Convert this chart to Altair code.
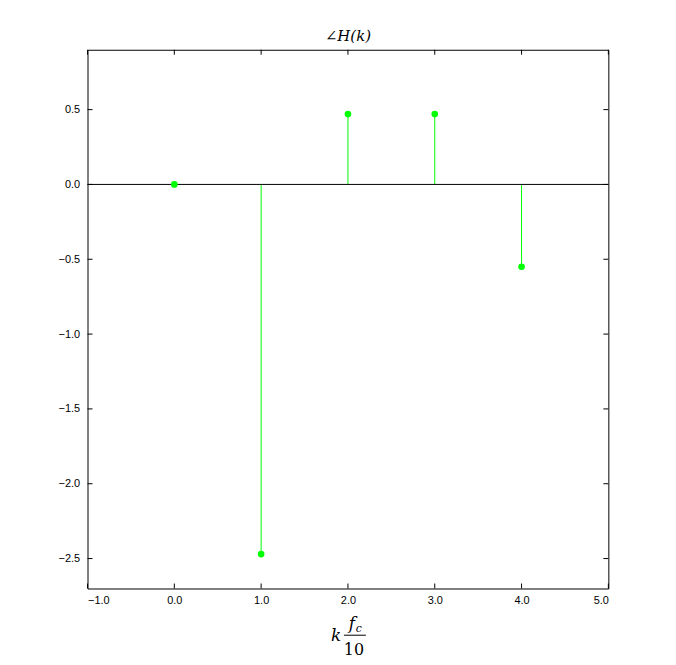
import altair as alt
import pandas as pd

k = [0, 1, 2, 3, 4]
phase = [0.0, -2.47, 0.47, 0.47, -0.55]
x_ticks = [-1, 0, 1, 2, 3, 4, 5]
y_ticks = [-2.5, -2, -1.5, -1, -0.5, 0, 0.5]

W, H = 524, 542
df = pd.DataFrame({"k": k, "phase": phase, "base": [0] * len(k)})
xs = alt.Scale(domain=[-1, 5], nice=False, zero=False)
ys = alt.Scale(domain=[-2.7, 0.9], nice=False, zero=False)
font = "Liberation Sans"

base = alt.Chart(df)
stems = base.mark_rule(color="#00ff00", strokeWidth=1).encode(
    x=alt.X("k:Q", scale=xs, axis=alt.Axis(values=x_ticks, ticks=False, grid=False, title=None,
                                             labelFont=font, labelFontSize=11, labelColor="black",
                                             labelPadding=6, domain=False)),
    y=alt.Y("base:Q", scale=ys, axis=alt.Axis(values=y_ticks, ticks=False, grid=False, title=None,
                                                labelFont=font, labelFontSize=11, labelColor="black",
                                                labelPadding=8, domain=False)),
    y2="phase:Q",
)
dots = base.mark_circle(color="#00ff00", opacity=1, size=45).encode(x="k:Q", y="phase:Q")
zero = alt.Chart(pd.DataFrame({"z": [0]})).mark_rule(color="black", strokeWidth=1).encode(y=alt.Y("z:Q", scale=ys))

xt = pd.DataFrame({"t": x_ticks})
yt = pd.DataFrame({"t": y_ticks})
xtb = alt.Chart(xt).mark_rule(color="black").encode(x=alt.X("t:Q", scale=xs), y=alt.value(H), y2=alt.value(H - 5))
xtt = alt.Chart(xt).mark_rule(color="black").encode(x=alt.X("t:Q", scale=xs), y=alt.value(0), y2=alt.value(5))
ytl = alt.Chart(yt).mark_rule(color="black").encode(y=alt.Y("t:Q", scale=ys), x=alt.value(0), x2=alt.value(5))
ytr = alt.Chart(yt).mark_rule(color="black").encode(y=alt.Y("t:Q", scale=ys), x=alt.value(W), x2=alt.value(W - 5))

labels = []
for s, px, py, fs, st in [("k", 250, 48, 17, "italic"), ("f", 266, 36, 17, "italic"),
                          ("c", 273, 41, 11, "italic"), ("10", 268, 62, 16, "normal")]:
    labels.append(alt.Chart(pd.DataFrame({"s": [s]})).mark_text(
        font="DejaVu Serif", fontSize=fs, fontStyle=st, color="black", align="center").encode(
        text="s:N", x=alt.value(px), y=alt.value(H + py)))
bar = alt.Chart(pd.DataFrame({"a": [0]})).mark_rule(color="black", strokeWidth=1).encode(
    x=alt.value(258), x2=alt.value(280), y=alt.value(H + 47))
title = alt.Chart(pd.DataFrame({"s": ["∠H(k)"]})).mark_text(
    font="DejaVu Serif", fontSize=15, fontStyle="italic", color="black").encode(
    text="s:N", x=alt.value(W / 2), y=alt.value(-14))

chart = alt.layer(stems, zero, dots, xtb, xtt, ytl, ytr, bar, title, *labels).properties(
    width=W, height=H, autosize=alt.AutoSizeParams(type="none"),
    padding={"left": 80, "top": 40, "right": 60, "bottom": 80},
).configure_view(stroke="black", strokeWidth=1)

chart.save("out.html", embed_options={"renderer": "svg", "actions": False})
